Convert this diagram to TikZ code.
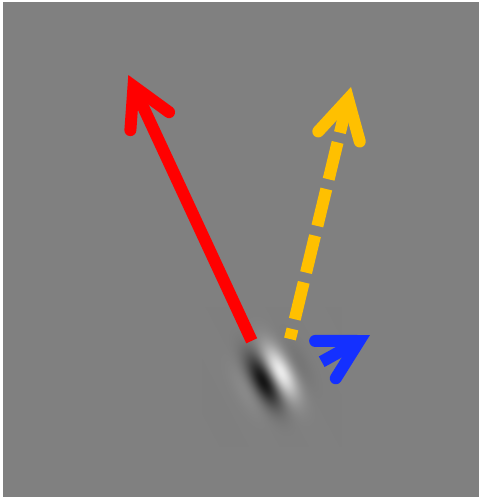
\documentclass[tikz,border=0pt]{standalone}
\usepackage{xcolor}
\usepackage{tikz}
\usetikzlibrary{calc}
\definecolor{fond}{HTML}{808080}
\definecolor{rouge}{HTML}{FF0000}
\definecolor{jaune}{HTML}{FFC000}
\definecolor{bleu}{HTML}{1430FF}

% Gabor : enveloppe gaussienne x sinus, axe des bandes incline
\pgfdeclarefunctionalshading{gabor}{\pgfpoint{-70bp}{-70bp}}{\pgfpoint{70bp}{70bp}}{}{%
  2 copy 0.469 mul exch 0.883 mul add
  3 1 roll
  0.883 mul exch -0.469 mul add
  dup mul 800 div
  exch dup dup mul 450 div
  3 -1 roll add
  neg 2.71828 exch exp
  exch 6.8 mul sin
  mul 0.56 mul 0.5 add
  dup dup
}

\tikzset{
  trait/.style={line width=12bp, line cap=butt},
  pointe/.style={line width=12bp, line cap=round, line join=miter}
}

\begin{document}
\begin{tikzpicture}[x=1bp, y=-1bp]
    % Fond
    \useasboundingbox (0,0) rectangle (479,498);
    \fill[white] (0,0) rectangle (479,498);
    \fill[fond] (3,2) rectangle (479,497);

    % Stimulus
    \node[inner sep=0pt, outer sep=0pt] (gabor) at (271.5,376) {\pgfuseshading{gabor}};

    % Extremites des fleches
    \coordinate (rouge-base) at (251.7,340.8);
    \coordinate (rouge-pointe) at (128.3,75);
    \coordinate (jaune-base) at (290,339);
    \coordinate (jaune-pointe) at (351,87);
    \coordinate (bleu-base) at (321.7,361.7);
    \coordinate (bleu-pointe) at (370,335);
    \foreach \nom in {rouge, jaune, bleu}
      \coordinate (\nom-v) at ($(\nom-pointe)!12.4bp!(\nom-base)$);

    % Corps
    \draw[trait, rouge] (rouge-base) -- (rouge-v);
    \draw[trait, jaune, dash pattern=on 38bp off 10bp, dash phase=27.7bp] (jaune-base) -- (jaune-v);
    \draw[trait, bleu] (bleu-base) -- (bleu-v);

    % Pointes
    \foreach \nom in {rouge, jaune, bleu}
      \draw[pointe, \nom] ($(\nom-v)!44bp!29:(\nom-base)$) -- (\nom-v) -- ($(\nom-v)!44bp!-29:(\nom-base)$);
  \end{tikzpicture}
\end{document}
